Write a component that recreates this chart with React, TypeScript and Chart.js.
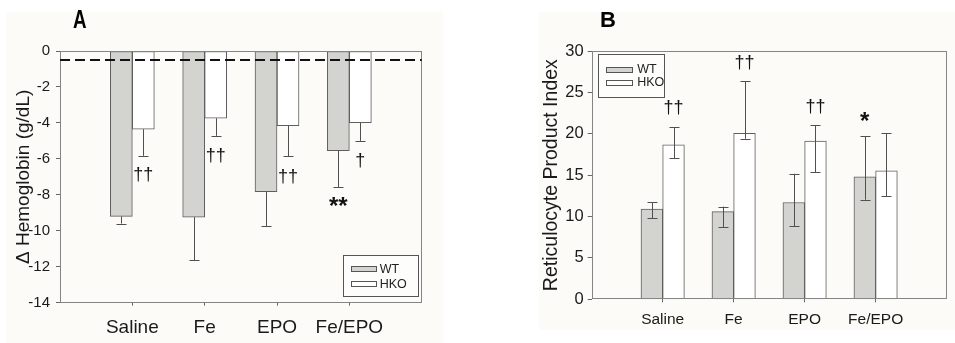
import React, { useEffect, useRef } from 'react';
import { Chart, registerables } from 'chart.js';

Chart.register(...registerables);

const FONT = "'Liberation Sans', Arial, Helvetica, sans-serif";

// ---------- shared ----------
const categories = ['Saline', 'Fe', 'EPO', 'Fe/EPO'];
const seriesNames = ['WT', 'HKO'];
const seriesFill = ['#d3d3cf', '#ffffff'];

// ---------- Panel A: Δ Hemoglobin (g/dL) ----------
const hbWT = [-9.2, -9.24, -7.83, -5.54];
const hbHKO = [-4.35, -3.74, -4.15, -3.98];
const hbErrWT = [0.4, 2.41, 1.93, 2.05];
const hbErrHKO = [1.48, 0.98, 1.7, 1.02];
const hbYMin = -14;
const hbYMax = 0;
const hbYStep = 2;
const hbReference = -0.5;
const hbMarkText = ['††', '††', '††', '†', '**'];
const hbMarkSeries = [1, 1, 1, 1, 0];
const hbMarkCat = [0, 1, 2, 3, 3];
const hbMarkY = [-6.89, -5.83, -7.0, -6.11, -8.72];

// ---------- Panel B: Reticulocyte Product Index ----------
const rpiWT = [10.9, 10.6, 11.7, 14.8];
const rpiWTHigh = [11.75, 11.2, 15.17, 19.72];
const rpiWTLow = [9.78, 8.73, 8.85, 12.03];
const rpiHKO = [18.67, 20.05, 19.12, 15.53];
const rpiHKOHigh = [20.77, 26.37, 21.05, 20.05];
const rpiHKOLow = [17.07, 19.4, 15.33, 12.44];
const rpiYMin = 0;
const rpiYMax = 30;
const rpiYStep = 5;
const rpiMarkText = ['††', '††', '††', '*'];
const rpiMarkSeries = [1, 1, 1, 0];
const rpiMarkCat = [0, 1, 2, 3];
const rpiMarkY = [23.1, 28.5, 23.2, 21.4];

const pad = (arr: (number | null)[]) => [null, ...arr, null];
const paddedLabels = ['', ...categories, ''];

type LegendCfg = {
  corner: 'tl' | 'br';
  inset: [number, number];
  w: number;
  h: number;
  swX: number;
  swW: number;
  swH: number;
  rows: number[];
  textX: number;
  fontSize: number;
};

type PanelCfg = {
  ends: number[][][];
  refLine?: number;
  marks: { ds: number; cat: number; y: number; text: string; font: string }[];
  legend: LegendCfg;
};

function makePlugin(cfg: PanelCfg) {
  return {
    id: 'panelExtras',
    afterDatasetsDraw(chart: any) {
      const { ctx, chartArea: ca, scales } = chart;
      const ys = scales.y;
      ctx.save();
      ctx.strokeStyle = '#505050';
      ctx.lineWidth = 1;
      cfg.ends.forEach((dsEnds, d) => {
        const meta = chart.getDatasetMeta(d);
        dsEnds.forEach((ends, j) => {
          const bar = meta.data[j + 1];
          const v = chart.data.datasets[d].data[j + 1];
          if (!bar || v == null) return;
          const x = Math.round(bar.x) + 0.5;
          const py = [v, ...ends].map((e: number) => ys.getPixelForValue(e));
          const top = Math.min(...py);
          const bot = Math.max(...py);
          ctx.beginPath();
          ctx.moveTo(x, top);
          ctx.lineTo(x, bot);
          ends.forEach((e) => {
            const yy = Math.round(ys.getPixelForValue(e)) + 0.5;
            ctx.moveTo(x - 5, yy);
            ctx.lineTo(x + 5, yy);
          });
          ctx.stroke();
        });
      });
      ctx.strokeStyle = '#858585';
      ctx.lineWidth = 1;
      ctx.strokeRect(Math.round(ca.left) + 0.5, Math.round(ca.top) + 0.5, Math.round(ca.width) - 1, Math.round(ca.height) - 1);
      if (cfg.refLine !== undefined) {
        const yy = ys.getPixelForValue(cfg.refLine);
        ctx.strokeStyle = '#111';
        ctx.lineWidth = 2;
        ctx.setLineDash([10, 5]);
        ctx.beginPath();
        ctx.moveTo(ca.left, yy);
        ctx.lineTo(ca.right, yy);
        ctx.stroke();
        ctx.setLineDash([]);
      }
      ctx.fillStyle = '#111';
      ctx.textAlign = 'center';
      ctx.textBaseline = 'middle';
      cfg.marks.forEach((m) => {
        const bar = chart.getDatasetMeta(m.ds).data[m.cat + 1];
        ctx.font = m.font;
        ctx.fillText(m.text, bar.x, ys.getPixelForValue(m.y));
      });
      const L = cfg.legend;
      const bx = L.corner === 'tl' ? ca.left + L.inset[0] : ca.right - L.inset[0] - L.w;
      const by = L.corner === 'tl' ? ca.top + L.inset[1] : ca.bottom - L.inset[1] - L.h;
      ctx.strokeStyle = '#555';
      ctx.lineWidth = 1;
      ctx.fillStyle = '#fdfdfb';
      ctx.fillRect(Math.round(bx) + 0.5, Math.round(by) + 0.5, L.w, L.h);
      ctx.strokeRect(Math.round(bx) + 0.5, Math.round(by) + 0.5, L.w, L.h);
      ctx.textAlign = 'left';
      ctx.textBaseline = 'middle';
      ctx.font = `${L.fontSize}px ${FONT}`;
      chart.data.datasets.forEach((ds: any, i: number) => {
        const cy = by + L.rows[i];
        ctx.fillStyle = ds.backgroundColor;
        ctx.fillRect(Math.round(bx + L.swX) + 0.5, Math.round(cy - L.swH / 2) + 0.5, L.swW, L.swH);
        ctx.strokeStyle = '#555';
        ctx.strokeRect(Math.round(bx + L.swX) + 0.5, Math.round(cy - L.swH / 2) + 0.5, L.swW, L.swH);
        ctx.fillStyle = '#222';
        ctx.fillText(ds.label, bx + L.textX, cy + 0.5);
      });
      ctx.restore();
    },
  };
}

function buildConfig(p: {
  values: number[][];
  yMin: number;
  yMax: number;
  yStep: number;
  yTitle: string;
  yTitleSize: number;
  yTitlePad: number;
  yWidth: number;
  yTickSize: number;
  yTickPad: number;
  xTickSize: number;
  xTickPad: number;
  xHeight: number;
  padTop: number;
  padRight: number;
  barW: number;
  plugin: any;
}) {
  return {
    type: 'bar' as const,
    data: {
      labels: paddedLabels,
      datasets: p.values.map((vals, i) => ({
        label: seriesNames[i],
        data: pad(vals),
        backgroundColor: seriesFill[i],
        borderColor: '#5e5e5e',
        borderWidth: 1,
        borderSkipped: false,
        barThickness: p.barW,
      })),
    },
    options: {
      animation: false as const,
      responsive: false,
      maintainAspectRatio: false,
      layout: { padding: { left: 0, top: p.padTop, right: p.padRight, bottom: 0 } },
      plugins: { legend: { display: false }, tooltip: { enabled: false } },
      scales: {
        x: {
          offset: false,
          grid: {
            display: true,
            offset: false,
            drawOnChartArea: false,
            tickLength: 3,
            tickColor: (c: any) => (c.index === 0 || c.index === paddedLabels.length - 1 ? 'rgba(0,0,0,0)' : '#666'),
          },
          border: { display: false },
          ticks: {
            autoSkip: false,
            maxRotation: 0,
            color: '#1a1a1a',
            padding: p.xTickPad,
            font: { family: FONT, size: p.xTickSize },
          },
          afterFit: (s: any) => {
            s.height = p.xHeight;
          },
        },
        y: {
          min: p.yMin,
          max: p.yMax,
          grid: { display: true, drawOnChartArea: false, tickLength: 4, tickColor: '#666' },
          border: { display: false },
          ticks: {
            stepSize: p.yStep,
            color: '#1a1a1a',
            padding: p.yTickPad,
            font: { family: FONT, size: p.yTickSize },
          },
          title: {
            display: true,
            text: p.yTitle,
            color: '#1a1a1a',
            font: { family: FONT, size: p.yTitleSize },
            padding: { top: p.yTitlePad, bottom: 0 },
          },
          afterFit: (s: any) => {
            s.width = p.yWidth;
          },
        },
      },
    },
    plugins: [p.plugin],
  };
}

const pluginA = makePlugin({
  ends: [
    hbWT.map((v, i) => [v - hbErrWT[i]]),
    hbHKO.map((v, i) => [v - hbErrHKO[i]]),
  ],
  refLine: hbReference,
  marks: hbMarkText.map((t, i) => ({
    ds: hbMarkSeries[i],
    cat: hbMarkCat[i],
    y: hbMarkY[i],
    text: t,
    font: t === '**' ? `bold 24px ${FONT}` : `18px ${FONT}`,
  })),
  legend: { corner: 'br', inset: [4, 7], w: 75, h: 41, swX: 8.5, swW: 25, swH: 5, rows: [14, 29], textX: 37, fontSize: 12.5 },
});

const pluginB = makePlugin({
  ends: [
    rpiWT.map((_, i) => [rpiWTHigh[i], rpiWTLow[i]]),
    rpiHKO.map((_, i) => [rpiHKOHigh[i], rpiHKOLow[i]]),
  ],
  marks: rpiMarkText.map((t, i) => ({
    ds: rpiMarkSeries[i],
    cat: rpiMarkCat[i],
    y: rpiMarkY[i],
    text: t,
    font: t === '*' ? `bold 24px ${FONT}` : `18px ${FONT}`,
  })),
  legend: { corner: 'tl', inset: [6.5, 2.5], w: 66, h: 43, swX: 8, swW: 26, swH: 5, rows: [16, 29], textX: 39, fontSize: 12.5 },
});

function ChartCanvas({ config, left, width }: { config: any; left: number; width: number }) {
  const ref = useRef<HTMLCanvasElement | null>(null);
  useEffect(() => {
    if (!ref.current) return;
    const chart = new Chart(ref.current, config);
    return () => chart.destroy();
  }, [config]);
  return (
    <canvas
      ref={ref}
      width={width}
      height={343}
      style={{ position: 'absolute', left, top: 0, width, height: 343, display: 'block' }}
    />
  );
}

const configA = buildConfig({
  values: [hbWT, hbHKO],
  yMin: hbYMin,
  yMax: hbYMax,
  yStep: hbYStep,
  yTitle: 'Δ Hemoglobin (g/dL)',
  yTitleSize: 19,
  yTitlePad: 12.6,
  yWidth: 60,
  yTickSize: 15,
  yTickPad: 6,
  xTickSize: 19,
  xTickPad: 11,
  xHeight: 40.3,
  padTop: 51,
  padRight: 48.3,
  barW: 22,
  plugin: pluginA,
});

const configB = buildConfig({
  values: [rpiWT, rpiHKO],
  yMin: rpiYMin,
  yMax: rpiYMax,
  yStep: rpiYStep,
  yTitle: 'Reticulocyte Product Index',
  yTitleSize: 19.5,
  yTitlePad: 60,
  yWidth: 111.7,
  yTickSize: 16.5,
  yTickPad: 4,
  xTickSize: 15.5,
  xTickPad: 8.4,
  xHeight: 43.7,
  padTop: 51,
  padRight: 5,
  barW: 21.7,
  plugin: pluginB,
});

export default function App() {
  return (
    <div style={{ position: 'absolute', left: 0, top: 0, width: 955, height: 343, background: '#ffffff', overflow: 'hidden' }}>
      <div style={{ position: 'absolute', left: 6, top: 12, width: 437, height: 331, background: '#fcfbf8' }} />
      <div style={{ position: 'absolute', left: 539, top: 12, width: 416, height: 318, background: '#fcfbf8' }} />
      <ChartCanvas config={configA} left={0} width={470} />
      <ChartCanvas config={configB} left={480} width={475} />
      <div
        style={{
          position: 'absolute',
          left: 73,
          top: 6.7,
          fontFamily: FONT,
          fontWeight: 'bold',
          fontSize: 25,
          lineHeight: 1,
          transform: 'scaleX(0.75)',
          transformOrigin: 'left top',
          color: '#000',
        }}
      >
        A
      </div>
      <div
        style={{
          position: 'absolute',
          left: 600,
          top: 9.4,
          fontFamily: FONT,
          fontWeight: 'bold',
          fontSize: 22,
          lineHeight: 1,
          color: '#000',
        }}
      >
        B
      </div>
    </div>
  );
}
